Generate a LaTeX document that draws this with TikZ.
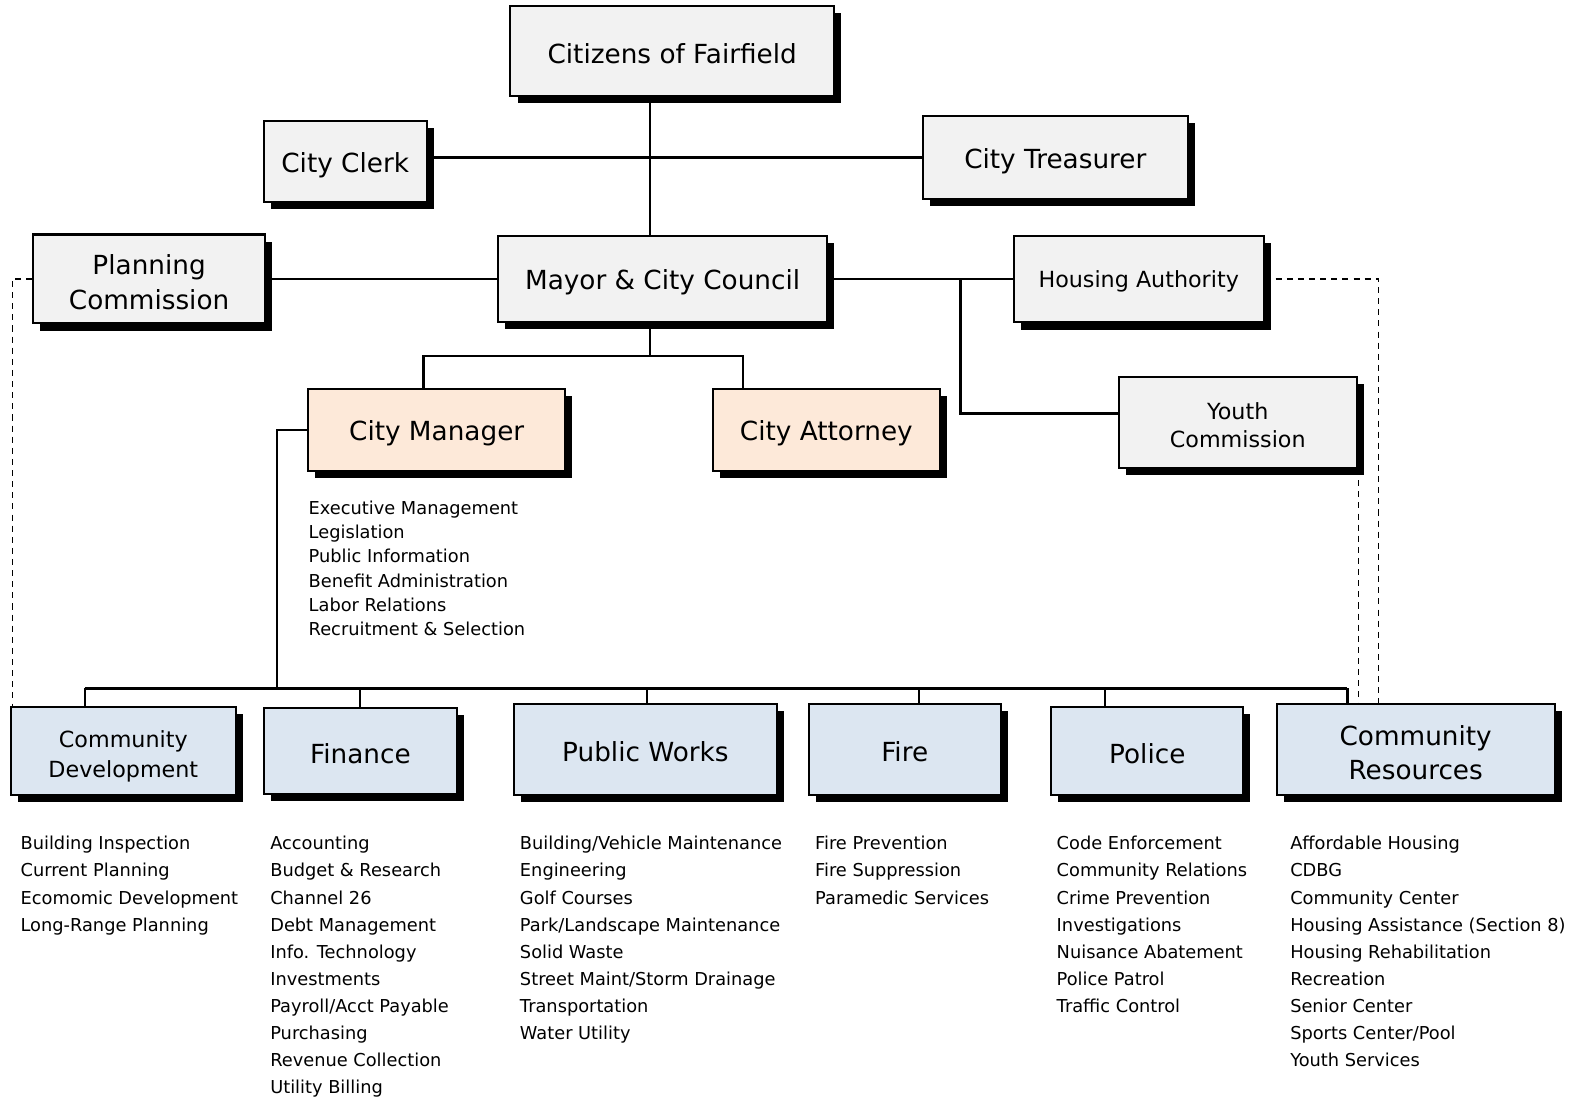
\documentclass[tikz,border=0pt]{standalone}
\usepackage{fontspec}
\setmainfont{DejaVu Sans}
\usetikzlibrary{shadows}

\definecolor{boxgray}{HTML}{F2F2F2}
\definecolor{boxpeach}{HTML}{FDE9D9}
\definecolor{boxblue}{HTML}{DCE6F1}

\newcommand\bigtxt{\fontsize{13}{17}\selectfont}
\newcommand\midtxt{\fontsize{11}{14}\selectfont}
\newcommand\listtxt{\fontsize{8.8}{13.4}\selectfont}
\newcommand\boxstrut[1]{\rule{0pt}{#1}}

\tikzset{
  orgbox/.style={draw, line width=1pt, fill=boxgray, align=center, inner sep=2pt,
    execute at begin node={\boxstrut{1em}},
    drop shadow={shadow xshift=3.5pt, shadow yshift=-3.5pt, fill=black, opacity=1}},
  peachbox/.style={orgbox, fill=boxpeach},
  deptbox/.style={orgbox, fill=boxblue},
  link/.style={line width=1.2pt},
  dashlink/.style={line width=0.6pt, dash pattern=on 3pt off 2.5pt},
  duties/.style={anchor=north west, inner sep=0pt, align=left, font=\listtxt}
}

\begin{document}
\begin{tikzpicture}[x=0.5pt,y=-0.5pt]
    \useasboundingbox (0,0) rectangle (1568,1090);

    % upper part
    \node[orgbox, font=\bigtxt, minimum width=160pt, minimum height=44.5pt] (citizens) at (665,50.5) {Citizens of Fairfield};
    \node[orgbox, font=\bigtxt, minimum width=80.5pt, minimum height=40pt] (clerk) at (341.5,160) {City Clerk};
    \node[orgbox, font=\bigtxt, minimum width=131pt, minimum height=41pt] (treasurer) at (1044,156) {City Treasurer};
    \node[orgbox, font=\bigtxt, minimum width=114.5pt, minimum height=44pt] (planning) at (147.5,276) {\boxstrut{1em}Planning\\Commission};
    \node[orgbox, font=\bigtxt, minimum width=162.5pt, minimum height=42.5pt] (mayor) at (655.5,276) {Mayor \& City Council};
    \node[orgbox, font=\midtxt, minimum width=123.5pt, minimum height=43pt] (housing) at (1126.5,276) {Housing Authority};
    \node[peachbox, font=\bigtxt, minimum width=127pt, minimum height=40.5pt] (manager) at (432,425.5) {City Manager};
    \node[peachbox, font=\bigtxt, minimum width=112.5pt, minimum height=40.5pt] (attorney) at (817.5,425.5) {City Attorney};
    \node[orgbox, font=\midtxt, minimum width=117.5pt, minimum height=45pt] (youth) at (1224.5,418) {\boxstrut{1em}Youth\\Commission};

    % departments
    \node[deptbox, font=\fontsize{11}{15}\selectfont, minimum width=111pt, minimum height=43.5pt] (commdev) at (122,742.5) {\boxstrut{1.3em}Community\\Development};
    \node[deptbox, font=\bigtxt, minimum width=95.5pt, minimum height=42.5pt] (finance) at (356.5,742.5) {Finance};
    \node[deptbox, font=\bigtxt, minimum width=130.5pt, minimum height=45pt] (works) at (638.5,741) {Public Works};
    \node[deptbox, font=\bigtxt, minimum width=95pt, minimum height=45pt] (fire) at (895,741) {Fire};
    \node[deptbox, font=\bigtxt, minimum width=95pt, minimum height=43.5pt] (police) at (1135,742.5) {Police};
    \node[deptbox, font=\bigtxt, minimum width=137.5pt, minimum height=45pt] (commres) at (1400.5,741) {\boxstrut{1.05em}Community\\Resources};

    % solid lines
    \draw[link] (citizens.south -| 643,0) -- (mayor.north -| 643,0);
    \draw[link] (clerk.east |- treasurer.west) -- (treasurer.west);
    \draw[link] (planning.east) -- (mayor.west);
    \draw[link] (mayor.east) -- (housing.west);
    \draw[link] (950,276) |- ([yshift=4.5pt]youth.west);
    \draw[link] (mayor.south -| 643,0) -- (643,352);
    \draw[link] (manager.north -| 419,0) |- (735,352) -- (attorney.north -| 735,0);
    \draw[link] (manager.west) -| (274,681);
    \draw[link] (84,681) -- (1333,681);
    \foreach \d/\x in {commdev/84, finance/356, works/640, fire/909, police/1093, commres/1333}
        \draw[link] (\x,681) -- (\d.north -| \x,0);

    % dashed lines
    \draw[dashlink] (planning.west) -| (commdev.north -| 12,0);
    \draw[dashlink] (housing.east) -| (commres.north -| 1364,0);
    \draw[dashlink] (youth.south -| 1344,0) -- (commres.north -| 1344,0);

    % duty lists
    \node[duties, font=\fontsize{8.8}{12}\selectfont] (mgrduties) at (305,495) {Executive Management\\Legislation\\Public Information\\Benefit Administration\\Labor Relations\\Recruitment \& Selection};
    \node[duties] (cdduties) at (20,827) {Building Inspection\\Current Planning\\Ecomomic Development\\Long-Range Planning};
    \node[duties] (finduties) at (267,827) {Accounting\\Budget \& Research\\Channel 26\\Debt Management\\Info. Technology\\Investments\\Payroll/Acct Payable\\Purchasing\\Revenue Collection\\Utility Billing};
    \node[duties] (pwduties) at (514,827) {Building/Vehicle Maintenance\\Engineering\\Golf Courses\\Park/Landscape Maintenance\\Solid Waste\\Street Maint/Storm Drainage\\Transportation\\Water Utility};
    \node[duties] (fireduties) at (806,827) {Fire Prevention\\Fire Suppression\\Paramedic Services};
    \node[duties] (polduties) at (1045,827) {Code Enforcement\\Community Relations\\Crime Prevention\\Investigations\\Nuisance Abatement\\Police Patrol\\Traffic Control};
    \node[duties] (crduties) at (1276,827) {Affordable Housing\\CDBG\\Community Center\\Housing Assistance (Section 8)\\Housing Rehabilitation\\Recreation\\Senior Center\\Sports Center/Pool\\Youth Services};
\end{tikzpicture}
\end{document}
